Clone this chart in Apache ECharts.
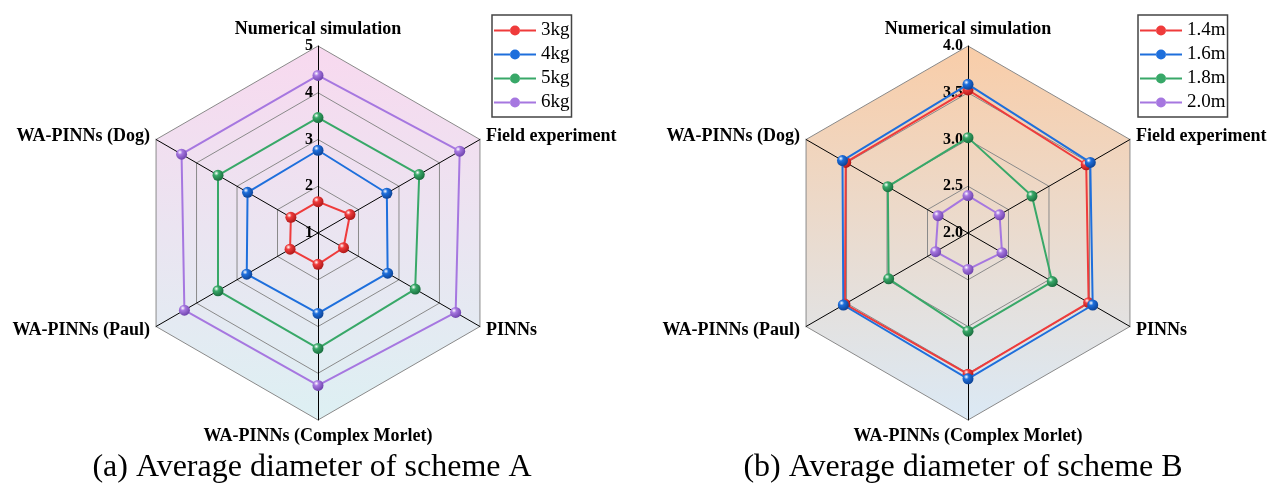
<!DOCTYPE html>
<html>
<head>
<meta charset="utf-8">
<script src="https://cdn.jsdelivr.net/npm/echarts@6/dist/echarts.min.js"></script>
<style>
html,body{margin:0;padding:0;background:#fff;}
#main{width:1269px;height:485px;}
</style>
</head>
<body>
<div id="main"></div>
<script>
// Indicators in ECharts order (counter-clockwise from top)
const categories = ['Numerical simulation', 'WA-PINNs (Dog)', 'WA-PINNs (Paul)', 'WA-PINNs (Complex Morlet)', 'PINNs', 'Field experiment'];

// Scheme A (left)
const namesA = ['3kg', '4kg', '5kg', '6kg'];
const kg3 = [1.67, 1.67, 1.69, 1.67, 1.63, 1.79];
const kg4 = [2.77, 2.74, 2.76, 2.72, 2.72, 2.70];
const kg5 = [3.47, 3.47, 3.47, 3.47, 3.40, 3.50];
const kg6 = [4.37, 4.37, 4.30, 4.26, 4.40, 4.50];
const ticksA = [1, 2, 3, 4, 5];

// Scheme B (right)
const namesB = ['1.4m', '1.6m', '1.8m', '2.0m'];
const m14 = [3.53, 3.51, 3.52, 3.51, 3.49, 3.46];
const m16 = [3.59, 3.55, 3.54, 3.56, 3.54, 3.51];
const m18 = [3.02, 2.99, 2.98, 3.05, 3.04, 2.79];
const m20 = [2.40, 2.37, 2.40, 2.39, 2.42, 2.39];
const ticksB = [2.0, 2.5, 3.0, 3.5, 4.0];

const captionA = '(a) Average diameter of scheme A';
const captionB = '(b) Average diameter of scheme B';

const colors = ['#ef3b3b', '#1e6fdc', '#38a868', '#a677e0'];
const darks  = ['#a81515', '#0c3f8f', '#17683a', '#6a3fa8'];
const FONT = '"Times New Roman", "Liberation Serif", serif';

function ball(i) {
  return {
    type: 'radial', x: 0.35, y: 0.32, r: 0.75,
    colorStops: [
      { offset: 0, color: '#ffffff' },
      { offset: 0.3, color: colors[i] },
      { offset: 1, color: darks[i] }
    ]
  };
}

function bgGrad(top, bottom) {
  return {
    type: 'linear', x: 0, y: 46, x2: 0, y2: 420, global: true,
    colorStops: [{ offset: 0, color: top }, { offset: 1, color: bottom }]
  };
}

function makeRadar(cx, ticks, grad, fmt) {
  return {
    center: [cx, 233],
    radius: 187,
    startAngle: 90,
    shape: 'polygon',
    splitNumber: ticks.length - 1,
    nameGap: 7,
    indicator: categories.map((n, i) => {
      const o = { name: n, min: ticks[0], max: ticks[ticks.length - 1] };
      if (i === 0) o.axisLabel = { show: true };
      return o;
    }),
    axisName: { color: '#000', fontFamily: FONT, fontSize: 18, fontWeight: 'bold' },
    axisLine: { lineStyle: { color: '#000', width: 1 } },
    axisTick: { show: false },
    splitLine: { lineStyle: { color: '#8a8a8a', width: 1 } },
    splitArea: { show: true, areaStyle: { color: [grad] } },
    axisLabel: {
      show: false, color: '#000', fontFamily: FONT, fontSize: 16, fontWeight: 'bold',
      margin: 5, formatter: fmt
    }
  };
}

function makeSeries(radarIndex, names, arrs) {
  return arrs.map((arr, i) => ({
    type: 'radar',
    radarIndex: radarIndex,
    name: names[i],
    color: colors[i],
    symbol: 'circle',
    symbolSize: 11,
    lineStyle: { color: colors[i], width: 2 },
    itemStyle: { color: ball(i) },
    z: 2 + i,
    data: [{ name: names[i], value: arr }]
  }));
}

const legendIcon = 'path://M0,4h16.2v2h-16.2z M26,5a5,5 0 1,0 -10,0a5,5 0 1,0 10,0z M25.8,4h16.2v2h-16.2z';

function makeLegend(left, names) {
  return {
    left: left, top: 15, orient: 'vertical',
    data: names.map((n, i) => ({ name: n, itemStyle: { color: colors[i] } })),
    icon: legendIcon, itemWidth: 42, itemHeight: 10, itemGap: 5,
    padding: [6, 2, 5, 2],
    borderColor: '#444', borderWidth: 1.5,
    textStyle: { fontFamily: FONT, fontSize: 19, color: '#000' },
    selectedMode: false
  };
}

const chart = echarts.init(document.getElementById('main'), null, { renderer: 'canvas' });
chart.setOption({
  backgroundColor: '#fff',
  animation: false,
  title: [
    { text: captionA, left: 312, top: 452, textAlign: 'center', padding: 0,
      textStyle: { fontFamily: FONT, fontSize: 32, fontWeight: 'normal', color: '#000' } },
    { text: captionB, left: 963, top: 452, textAlign: 'center', padding: 0,
      textStyle: { fontFamily: FONT, fontSize: 32, fontWeight: 'normal', color: '#000' } }
  ],
  legend: [makeLegend(492, namesA), makeLegend(1138, namesB)],
  radar: [
    makeRadar(318, ticksA, bgGrad('#f8d9ef', '#ddf0f3'), v => String(Math.round(v))),
    makeRadar(968, ticksB, bgGrad('#f9cda8', '#dbe9f5'), v => Number(v).toFixed(1))
  ],
  series: makeSeries(0, namesA, [kg3, kg4, kg5, kg6]).concat(makeSeries(1, namesB, [m14, m16, m18, m20]))
});
</script>
</body>
</html>
